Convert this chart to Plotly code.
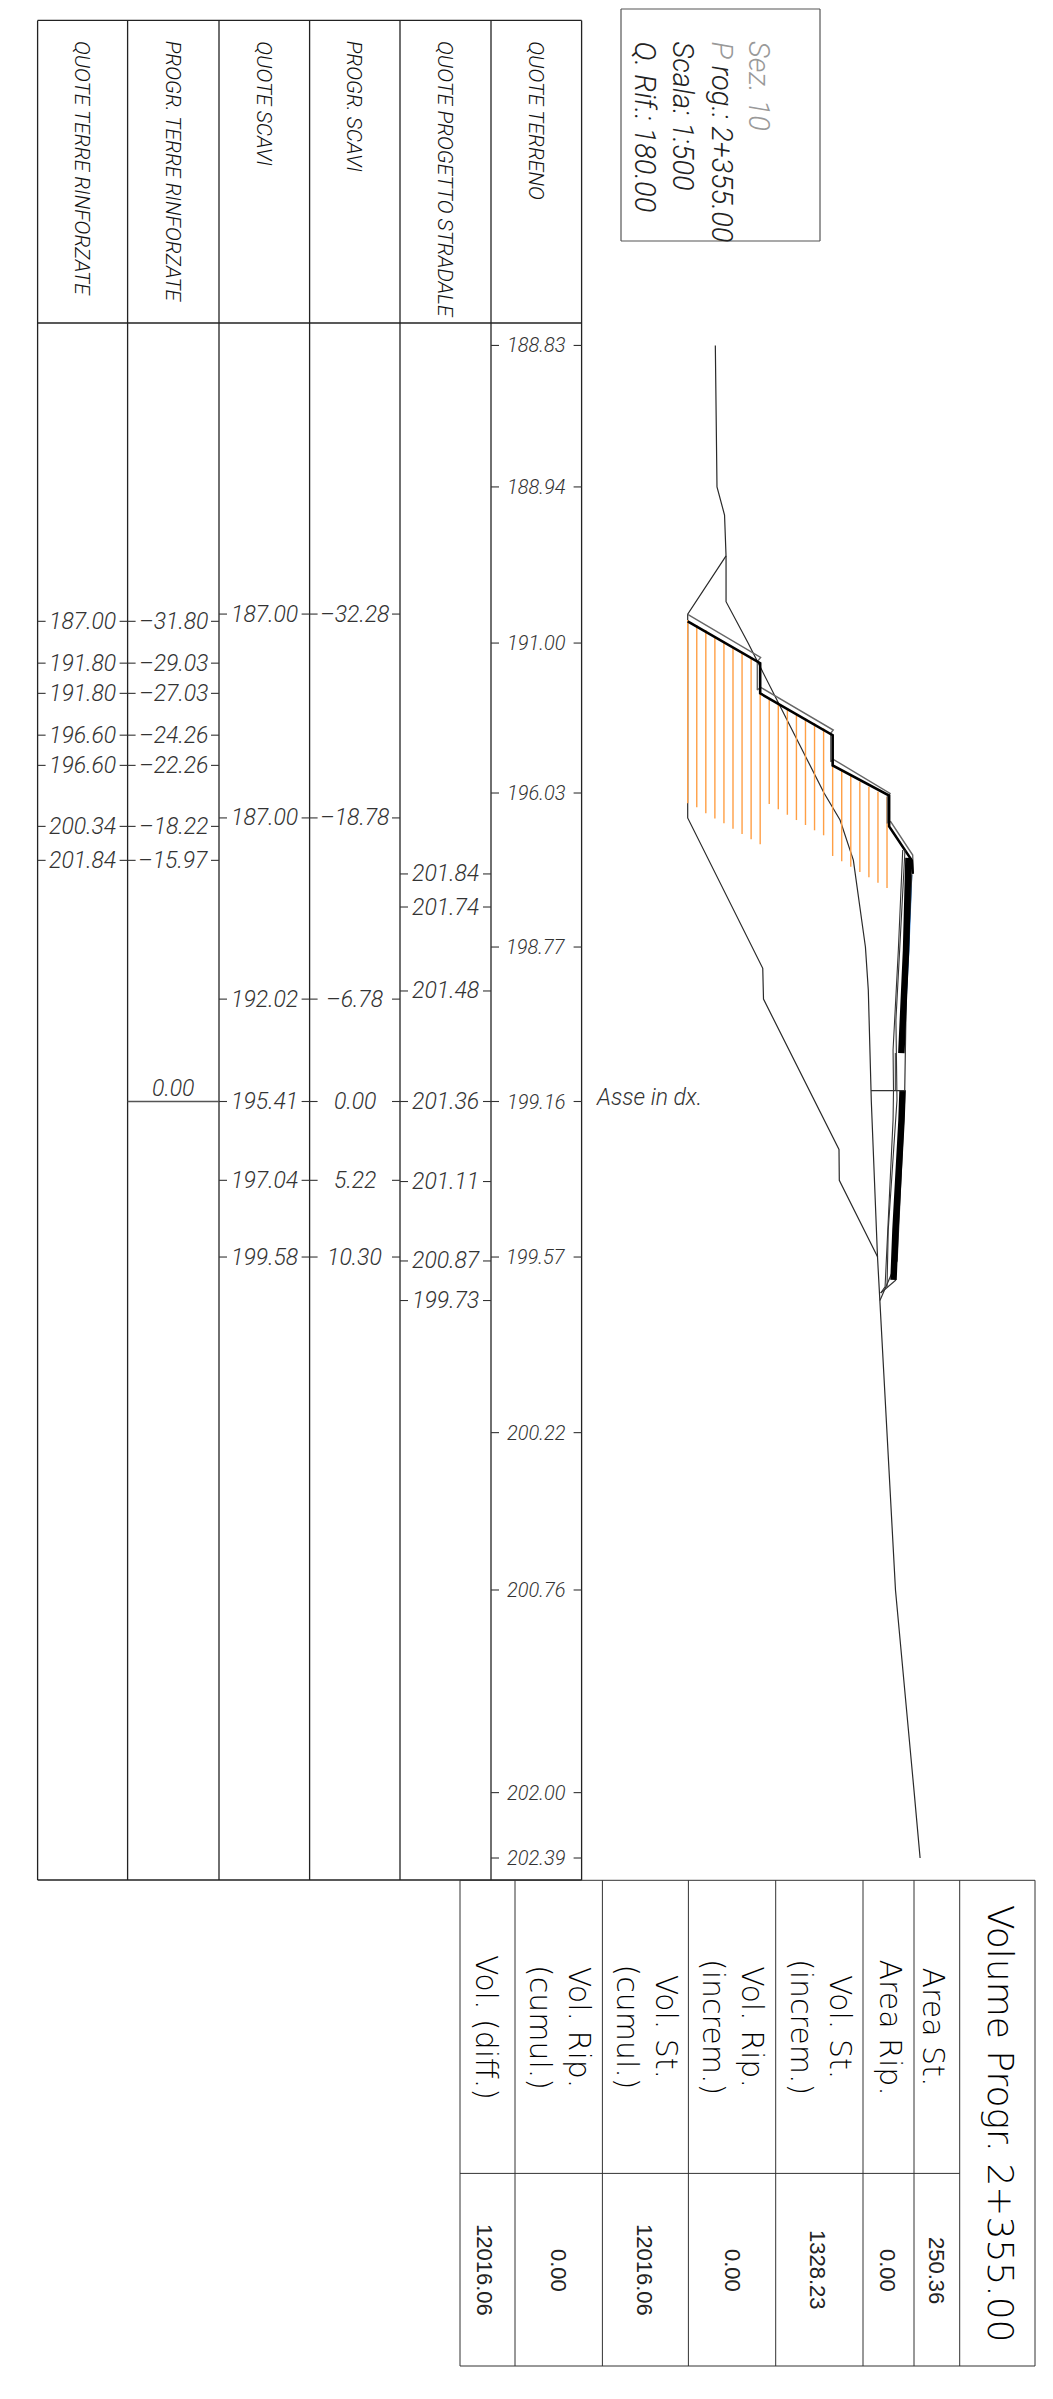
import plotly.graph_objects as go

W, H = 1053, 2399
# the page keeps an 8 px body margin round the figure
PAGE = 8
FIG_W, FIG_H = W - 2 * PAGE, H - 2 * PAGE
# scale of the drawing: 15.1 px per metre on both axes
SCALE = 15.1
X_REF_PX, X_REF_ELEV = 687.7, 187.0
Y_REF_PX = 1101.5

# ---------- data ----------
terrain_elev = [188.83, 188.94, 189.44, 189.54, 189.54, 191.00, 196.03, 197.09, 197.97, 198.52, 198.77, 198.96, 199.16, 199.57, 200.22, 200.76, 202.00, 202.39]
terrain_prog = [-50.07, -40.70, -38.84, -36.13, -33.10, -30.36, -20.43, -18.64, -15.99, -12.02, -10.23, -7.38, 0.00, 10.30, 21.93, 32.35, 45.77, 50.10]

terrain_lab_elev = [188.83, 188.94, 191.00, 196.03, 198.77, 199.16, 199.57, 200.22, 200.76, 202.00, 202.39]
terrain_lab_prog = [-50.07, -40.70, -30.36, -20.43, -10.23, 0.00, 10.30, 21.93, 32.35, 45.77, 50.10]

project_elev = [201.84, 201.74, 201.48, 201.36, 201.11, 200.87, 199.73]
project_prog = [-15.07, -12.88, -7.32, 0.00, 5.30, 10.56, 13.18]

scavi_elev = [187.00, 187.00, 192.02, 195.41, 197.04, 199.58]
scavi_prog = [-32.28, -18.78, -6.78, 0.00, 5.22, 10.30]

rinf_elev = [187.00, 191.80, 191.80, 196.60, 196.60, 200.34, 201.84]
rinf_prog = [-31.80, -29.03, -27.03, -24.26, -22.26, -18.22, -15.97]

excav_elev = [189.54, 187.00, 187.00, 191.97, 192.02, 197.02, 197.04, 199.58]
excav_prog = [-36.13, -32.28, -18.78, -8.82, -6.78, 3.17, 5.22, 10.30]

wall_elev = [187.00, 191.80, 191.80, 196.60, 196.60, 200.34, 200.34, 201.84, 201.90]
wall_prog = [-31.80, -29.03, -27.03, -24.26, -22.26, -20.26, -18.22, -15.97, -15.07]

outer_elev = [187.00, 191.83, 191.61, 191.61, 191.83, 196.64, 196.47, 196.47, 196.64, 200.40, 200.22, 200.22, 200.44, 201.90, 201.94]
outer_prog = [-32.26, -29.41, -29.13, -27.25, -27.43, -24.60, -24.38, -22.50, -22.66, -20.41, -20.19, -18.46, -18.53, -16.32, -15.11]

pack1_elev = [201.62, 201.46, 201.15]
pack1_prog = [-16.13, -10.03, -3.21]
pack2_elev = [201.23, 201.16, 200.76, 200.63]
pack2_prog = [-0.76, 1.23, 8.51, 11.82]
blue_elev = [201.83, 201.64, 201.34]
blue_prog = [-15.00, -10.03, -4.54]
thin1_elev = [201.24, 200.95, 200.60, 200.63, 200.60, 200.07, 199.78]
thin1_prog = [-16.66, -10.03, -3.41, -0.76, 1.23, 12.28, 12.68]
thin2_elev = [201.39, 201.06, 200.79, 200.86, 200.28, 200.20]
thin2_prog = [-16.66, -10.03, -5.40, -0.10, 8.51, 12.28]
inner_elev = [200.79, 199.78]
inner_prog = [11.82, 12.68]
axis_elev = [199.14, 201.39]
axis_prog = [-0.72, -0.72]
box_elev = [200.75, 200.75]
box_prog = [-3.21, -0.72]

strip_elev = [187.0, 187.6, 188.2, 188.8, 189.4, 190.0, 190.6, 191.2, 191.8, 192.4, 193.0, 193.6, 194.2, 194.8, 195.4, 196.0, 196.6, 197.2, 197.8, 198.4, 199.0, 199.6, 200.2]
strip_top = [-31.89, -31.56, -31.23, -30.78, -30.45, -30.08, -29.72, -29.35, -29.02, -26.59, -26.32, -26.04, -25.71, -25.38, -25.05, -24.71, -22.28, -21.95, -21.62, -21.18, -20.85, -20.52, -20.19]
strip_end = [-19.75, -19.48, -19.09, -18.75, -18.42, -18.07, -17.72, -17.36, -17.03, -19.70, -19.35, -18.99, -18.64, -18.31, -17.96, -17.63, -16.26, -15.91, -15.55, -15.20, -14.85, -14.49, -14.14]

column_titles = ["QUOTE TERRE RINFORZATE", "PROGR. TERRE RINFORZATE", "QUOTE SCAVI", "PROGR. SCAVI", "QUOTE PROGETTO STRADALE", "QUOTE TERRENO"]

volume_title = "Volume Progr. 2+355.00"
volume_heads = ["Area St.", "Area Rip.", "Vol. St.<br>(increm.)", "Vol. Rip.<br>(increm.)", "Vol. St.<br>(cumul.)", "Vol. Rip.<br>(cumul.)", "Vol. (diff.)"]
volume_vals = ["250.36", "0.00", "1328.23", "0.00", "12016.06", "0.00", "12016.06"]

info_lines = ["Sez. 10", "<span style='color:#999'>P</span> rog.: 2+355.00", "Scala: 1:500", "Q. Rif.: 180.00"]

# ---------- layout constants (px of the page) ----------
COL_X = [37.6, 127.6, 219, 309.6, 400, 491, 581.6]
TAB_TOP, TAB_HEAD, TAB_BOT = 20.4, 323, 1880
VOL_X = [460, 515, 602.4, 688.4, 775.7, 863, 914, 959.7, 1035]
VOL_TOP, VOL_LINE, VOL_BOT = 1880.3, 2173.4, 2366
VOL_HEAD_X = [933.5, 890.5, 821, 733, 646.5, 560, 487]
VOL_VAL_X = [937, 888, 818, 733, 645, 559, 485]
BOX = (621, 820, 9, 241)
INFO_X = [759, 722, 683, 645]

CAD = "Roboto, Liberation Sans, sans-serif"
ROUND = "DejaVu Sans, sans-serif"
INK = "#333333"


def px(x):
    return (x - PAGE) / FIG_W


def py(y):
    return 1 - (y - PAGE) / FIG_H


fig = go.Figure()


def line(xs, ys, color="#2a2a2a", width=1.2):
    fig.add_trace(go.Scatter(x=xs, y=ys, mode="lines", line=dict(color=color, width=width),
                             hoverinfo="skip", showlegend=False))


line(excav_elev, excav_prog)
line(terrain_elev, terrain_prog)

sx, sy = [], []
for e, a, b in zip(strip_elev, strip_top, strip_end):
    sx += [e, e, None]
    sy += [a, b, None]
line(sx, sy, color="#ff9f45", width=1.4)

line(outer_elev, outer_prog, color="#666666", width=1.4)
line(wall_elev, wall_prog, color="#000000", width=2.6)
line(blue_elev, blue_prog, color="#1e78d8", width=1.4)
line(project_elev, project_prog, color="#333333", width=1.2)
line(thin1_elev, thin1_prog, color="#333333", width=1.1)
line(thin2_elev, thin2_prog, color="#333333", width=1.1)
line(inner_elev, inner_prog, color="#333333", width=1.1)
line(pack1_elev, pack1_prog, color="#000000", width=6.5)
line(pack2_elev, pack2_prog, color="#000000", width=6.5)
line(axis_elev, axis_prog, color="#333333", width=1.2)
line(box_elev, box_prog, color="#333333", width=1)

shapes, annos = [], []


def seg(x0, y0, x1, y1, color="#222222", width=1.3, yref="paper"):
    shapes.append(dict(type="line", xref="paper", yref=yref, x0=px(x0), x1=px(x1),
                       y0=py(y0) if yref == "paper" else y0, y1=py(y1) if yref == "paper" else y1,
                       line=dict(color=color, width=width)))


for x in COL_X:
    seg(x, TAB_TOP, x, TAB_BOT)
seg(COL_X[0], TAB_TOP, COL_X[-1], TAB_TOP)
seg(COL_X[0], TAB_HEAD, COL_X[-1], TAB_HEAD)
seg(COL_X[0], TAB_BOT, COL_X[-1], TAB_BOT)


def text(x, y, s, size, family=CAD, angle=0, color=INK, italic=True, xanchor="center", yanchor="middle",
         yref="paper", align="center", weight=300):
    annos.append(dict(xref="paper", yref=yref, x=px(x), y=py(y) if yref == "paper" else y, text=s,
                      showarrow=False, textangle=angle, xanchor=xanchor, yanchor=yanchor, align=align,
                      font=dict(family=family, size=size, color=color, weight=weight,
                                style="italic" if italic else "normal"),
                      borderpad=0, borderwidth=0))


for i, title in enumerate(column_titles):
    text((COL_X[i] + COL_X[i + 1]) / 2, 41, title, 21, angle=90, yanchor="top", color="#111111", weight=300)


def column(i, values, progs, size=23):
    left, right = COL_X[i], COL_X[i + 1]
    for v, p in zip(values, progs):
        seg(left, p, left + 8, p, yref="y", color="#333333", width=1.1)
        seg(right - 8, p, right, p, yref="y", color="#333333", width=1.1)
        label = f"{v:.2f}".replace("-", "\u2013")
        text((left + right) / 2, p, label, size, yref="y")


column(0, rinf_elev, rinf_prog)
column(1, rinf_prog, rinf_prog)
column(2, scavi_elev, scavi_prog)
column(3, scavi_prog, scavi_prog)
column(4, project_elev, project_prog)
column(5, terrain_lab_elev, terrain_lab_prog, size=20)

# zero line of the reinforced progressive column
seg(COL_X[1], 0, COL_X[2], 0, yref="y", color="#555555", width=1.4)
text((COL_X[1] + COL_X[2]) / 2, 0, "0.00", 23, yref="y", yanchor="bottom")
text(596, 1097, "Asse in dx.", 23, xanchor="left")

# info box
x0, x1, y0, y1 = BOX
for a, b, c, d in [(x0, y0, x1, y0), (x0, y1, x1, y1), (x0, y0, x0, y1), (x1, y0, x1, y1)]:
    seg(a, b, c, d, color="#555555", width=1.2)
for i, (x, s) in enumerate(zip(INFO_X, info_lines)):
    text(x, 41, s, 29, angle=90, yanchor="top", color="#999999" if i == 0 else "#222222")

# volume table
for x in VOL_X:
    seg(x, VOL_TOP, x, VOL_BOT, color="#333333", width=1)
seg(VOL_X[0], VOL_TOP, VOL_X[-1], VOL_TOP, color="#333333", width=1)
seg(VOL_X[0], VOL_BOT, VOL_X[-1], VOL_BOT, color="#333333", width=1)
seg(VOL_X[0], VOL_LINE, VOL_X[-2], VOL_LINE, color="#333333", width=1)
text(1000.7, 2123.7, volume_title, 36, family=ROUND, angle=90, italic=False, color="#000000", weight=200)
for x, s in zip(VOL_HEAD_X, volume_heads):
    text(x, 2027, s, 30, family=ROUND, angle=90, italic=False, color="#000000", weight=200)
for x, s in zip(VOL_VAL_X, volume_vals):
    text(x, 2270, s, 22, family="Liberation Sans, Arial, sans-serif", angle=90, italic=False, color="#222222", weight=400)

fig.update_layout(
    width=FIG_W, height=FIG_H, margin=dict(l=0, r=0, t=0, b=0),
    paper_bgcolor="white", plot_bgcolor="white", showlegend=False,
    xaxis=dict(visible=False, domain=[0, 1],
               range=[X_REF_ELEV - (X_REF_PX - PAGE) / SCALE, X_REF_ELEV + (W - PAGE - X_REF_PX) / SCALE]),
    yaxis=dict(visible=False, domain=[0, 1],
               range=[(H - PAGE - Y_REF_PX) / SCALE, -(Y_REF_PX - PAGE) / SCALE]),
    shapes=shapes, annotations=annos,
)
fig.write_html("out.html", config=dict(displayModeBar=False))
